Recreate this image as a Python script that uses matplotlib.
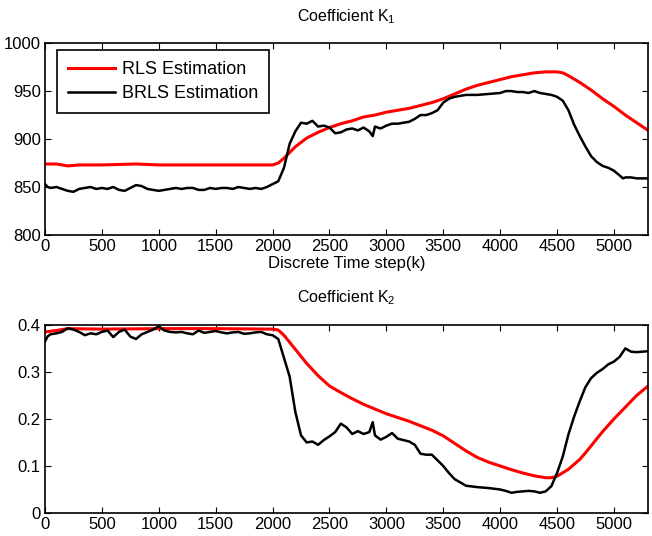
import matplotlib
matplotlib.use('Agg')
from matplotlib import pyplot as plt

plt.rcParams['font.family'] = ['Liberation Sans', 'DejaVu Sans']
plt.rcParams['mathtext.default'] = 'regular'

# K1 - RLS estimation (smooth)
k1_rls_x = [0, 100, 200, 300, 500, 800, 1000, 1500, 1900, 2000, 2050, 2100, 2200, 2300,
            2400, 2500, 2600, 2700, 2800, 2900, 3000, 3200, 3400, 3500, 3600, 3700, 3800,
            3900, 4000, 4100, 4200, 4300, 4400, 4450, 4500, 4550, 4600, 4700, 4800, 4900,
            5000, 5100, 5200, 5300]
k1_rls_y = [874, 874, 872, 873, 873, 874, 873, 873, 873, 873, 875, 880, 892, 901,
            907, 912, 916, 919, 923, 925, 928, 932, 938, 942, 947, 952, 956,
            959, 962, 965, 967, 969, 970, 970, 970, 969, 966, 959, 951, 942,
            934, 925, 917, 909]

# K1 - BRLS estimation (noisy)
k1_brls_x = [0, 25, 50, 100, 150, 200, 250, 300, 350, 400, 450, 500, 550, 600, 650, 700,
             750, 800, 850, 900, 950, 1000, 1050, 1100, 1150, 1200, 1250, 1300, 1350,
             1400, 1450, 1500, 1550, 1600, 1650, 1700, 1750, 1800, 1850, 1900, 1950,
             2000, 2050, 2100, 2150, 2200, 2250, 2300, 2350, 2400, 2450, 2500,
             2550, 2600, 2650, 2700, 2750, 2800, 2850, 2880, 2900, 2950, 3000, 3050, 3100,
             3150, 3200, 3250, 3300, 3350, 3400, 3450, 3500, 3550, 3600, 3650, 3700,
             3800, 3900, 4000, 4050, 4100, 4150, 4200, 4250, 4300, 4350, 4400, 4450,
             4500, 4550, 4600, 4650, 4700, 4750, 4800, 4850, 4900, 4950, 5000, 5050,
             5080, 5100, 5150, 5200, 5250, 5300]
k1_brls_y = [853, 850, 849, 850, 848, 846, 845, 848, 849, 850, 848, 849, 848, 850, 847, 846,
             849, 852, 851, 848, 847, 846, 847, 848, 849, 848, 849, 849, 847,
             847, 849, 848, 849, 849, 848, 850, 849, 848, 849, 848, 850,
             853, 856, 870, 895, 908, 917, 916, 919, 913, 914, 912,
             906, 907, 910, 911, 909, 912, 908, 903, 913, 911, 914, 916, 916,
             917, 918, 921, 925, 925, 927, 930, 938, 942, 944, 945, 946,
             946, 947, 948, 950, 950, 949, 949, 948, 950, 948, 947, 946,
             944, 940, 930, 915, 903, 892, 882, 876, 872, 870, 867, 862,
             859, 860, 860, 859, 859, 859]

# K2 - RLS estimation (smooth)
k2_rls_x = [0, 100, 200, 500, 1000, 1500, 2000, 2050, 2100, 2200, 2300, 2400, 2500,
            2600, 2700, 2800, 2900, 3000, 3200, 3400, 3500, 3600, 3700, 3800, 3900,
            4000, 4100, 4200, 4300, 4400, 4450, 4500, 4600, 4700, 4750, 4800, 4850, 4900,
            5000, 5100, 5200, 5300]
k2_rls_y = [0.385, 0.388, 0.392, 0.391, 0.392, 0.392, 0.391, 0.389, 0.378, 0.348, 0.318,
            0.292, 0.270, 0.256, 0.243, 0.231, 0.221, 0.211, 0.195, 0.176, 0.164,
            0.148, 0.132, 0.118, 0.108, 0.100, 0.092, 0.085, 0.079, 0.075, 0.075,
            0.078, 0.093, 0.114, 0.128, 0.143, 0.158, 0.173,
            0.200, 0.225, 0.250, 0.270]

# K2 - BRLS estimation (noisy)
k2_brls_x = [0, 25, 50, 100, 150, 200, 250, 300, 350, 400, 450,
             500, 550, 600, 650, 700, 750, 800, 850, 900, 950,
             1000, 1050, 1100, 1150, 1200, 1250, 1300, 1350, 1400, 1450,
             1500, 1550, 1600, 1650, 1700, 1750, 1800, 1850, 1900, 1950,
             2000, 2050, 2100, 2150, 2200, 2250, 2300, 2350, 2400, 2450, 2500, 2550,
             2600, 2650, 2700, 2750, 2800, 2850, 2880, 2900, 2950, 3000, 3050, 3100, 3150,
             3200, 3250, 3300, 3350, 3400, 3450, 3500, 3550, 3600, 3700, 3800, 3900,
             4000, 4050, 4100, 4150, 4200, 4250, 4300, 4350, 4400, 4450, 4500, 4550,
             4600, 4650, 4700, 4750, 4800, 4850, 4900, 4950, 5000, 5050, 5100, 5150,
             5200, 5250, 5300]
k2_brls_y = [0.365, 0.376, 0.380, 0.382, 0.385, 0.393, 0.390, 0.385, 0.378, 0.382, 0.380,
             0.385, 0.388, 0.374, 0.385, 0.390, 0.375, 0.370, 0.380, 0.385, 0.390,
             0.397, 0.388, 0.385, 0.384, 0.385, 0.382, 0.380, 0.388, 0.383, 0.385,
             0.387, 0.384, 0.382, 0.384, 0.385, 0.381, 0.382, 0.384, 0.385, 0.380,
             0.378, 0.370, 0.330, 0.290, 0.215, 0.165, 0.150, 0.152, 0.145, 0.155, 0.163, 0.172,
             0.190, 0.182, 0.168, 0.174, 0.168, 0.172, 0.193, 0.165, 0.156, 0.162, 0.170, 0.158, 0.155,
             0.152, 0.145, 0.126, 0.124, 0.124, 0.112, 0.100, 0.085, 0.072, 0.058, 0.055, 0.053,
             0.050, 0.047, 0.043, 0.045, 0.046, 0.047, 0.046, 0.043, 0.046, 0.057, 0.085, 0.120,
             0.167, 0.205, 0.238, 0.268, 0.287, 0.298, 0.306, 0.316, 0.322, 0.332, 0.350, 0.343,
             0.342, 0.343, 0.344]

xticks = [0, 500, 1000, 1500, 2000, 2500, 3000, 3500, 4000, 4500, 5000]

fig = plt.figure(figsize=(6.52, 5.36), dpi=100)
ax1 = fig.add_axes([0.069, 0.5616, 0.925, 0.358])
ax2 = fig.add_axes([0.069, 0.0429, 0.925, 0.351])

ax1.plot(k1_rls_x, k1_rls_y, color='#ff0000', lw=2.2, label='RLS Estimation')
ax1.plot(k1_brls_x, k1_brls_y, color='black', lw=1.8, label='BRLS Estimation')
ax1.set_xlim(0, 5300)
ax1.set_ylim(800, 1000)
ax1.set_yticks([800, 850, 900, 950, 1000])
ax1.set_xlabel('Discrete Time step(k)', fontsize=12, labelpad=1)
ax1.set_title('Coefficient K$_{1}$', fontsize=11.5, pad=16)
leg = ax1.legend(loc='upper left', bbox_to_anchor=(0.02, 0.964), borderaxespad=0,
                 fontsize=13, fancybox=False, framealpha=1, edgecolor='black',
                 handlelength=2.6, handletextpad=0.4, borderpad=0.6, labelspacing=0.4)
leg.get_frame().set_linewidth(1.2)

ax2.plot(k2_rls_x, k2_rls_y, color='#ff0000', lw=2.2)
ax2.plot(k2_brls_x, k2_brls_y, color='black', lw=1.8)
ax2.set_xlim(0, 5300)
ax2.set_ylim(0, 0.4)
ax2.set_yticks([0, 0.1, 0.2, 0.3, 0.4])
ax2.set_yticklabels(['0', '0.1', '0.2', '0.3', '0.4'])
ax2.set_title('Coefficient K$_{2}$', fontsize=11.5, pad=16)

for ax in (ax1, ax2):
    ax.set_xticks(xticks)
    ax.tick_params(direction='in', top=True, right=True, labelsize=12, length=4, pad=3)
    for s in ax.spines.values():
        s.set_linewidth(1.2)

plt.savefig('out.png', dpi=100)
